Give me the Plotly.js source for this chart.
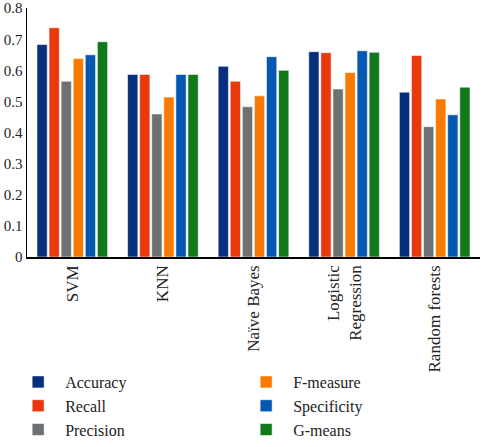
<!DOCTYPE html>
<html>
<head>
<meta charset="utf-8">
<script src="https://cdn.plot.ly/plotly-3.0.1.min.js"></script>
<style>html,body{margin:0;padding:0;background:#fff;}#chart{width:482px;height:447px;}</style>
</head>
<body>
<div id="chart"></div>
<script>
const categories = ["SVM", "KNN", "Naïve Bayes", "Logistic<br>Regression", "Random forests"];
const accuracy    = [0.683, 0.587, 0.613, 0.660, 0.530];
const recall      = [0.737, 0.587, 0.565, 0.657, 0.648];
const precision   = [0.565, 0.460, 0.483, 0.540, 0.419];
const fmeasure    = [0.638, 0.514, 0.518, 0.593, 0.508];
const specificity = [0.650, 0.587, 0.644, 0.663, 0.457];
const gmeans      = [0.692, 0.587, 0.600, 0.658, 0.546];
const seriesNames = ["Accuracy", "Recall", "Precision", "F-measure", "Specificity", "G-means"];
const yTicks = [0, 0.1, 0.2, 0.3, 0.4, 0.5, 0.6, 0.7, 0.8];

const series = [accuracy, recall, precision, fmeasure, specificity, gmeans];
const colors = ["#062f7c", "#e8380c", "#6e7174", "#f97a02", "#0458b0", "#12791a"];
const ranks = [1, 3, 5, 2, 4, 6];

const traces = series.map((vals, i) => ({
  type: "bar",
  name: seriesNames[i],
  x: categories,
  y: vals,
  legendrank: ranks[i],
  marker: { color: colors[i], line: { color: "rgba(255,255,255,0.55)", width: 1 } }
}));

const serif = "Liberation Serif, Times New Roman, serif";
const layout = {
  width: 482, height: 447,
  margin: { l: 27, r: 2, t: 8, b: 189 },
  paper_bgcolor: "#fff", plot_bgcolor: "#fff",
  barmode: "group", bargap: 0.2, bargroupgap: 0.15,
  font: { family: serif, size: 15, color: "#222" },
  showlegend: true,
  legend: {
    orientation: "h", x: -0.035, xanchor: "left", y: -0.756, yanchor: "bottom",
    bgcolor: "rgba(0,0,0,0)",
    entrywidth: 169, entrywidthmode: "pixels",
    font: { family: serif, size: 16, color: "#222" },
    traceorder: "normal", itemwidth: 44, tracegroupgap: 0
  },
  xaxis: {
    type: "category", tickangle: -90, showline: true, linecolor: "#000", linewidth: 1.5,
    ticks: "", showgrid: false, automargin: false, tickfont: { family: serif, size: 17, color: "#222" }
  },
  yaxis: {
    range: [0, 0.8005], tickvals: yTicks, ticktext: yTicks.map(v => String(v)),
    showline: true, linecolor: "#000", linewidth: 1.5, ticks: "", showgrid: false,
    zeroline: false, automargin: false, ticklabeloverflow: "allow",
    tickfont: { family: serif, size: 15, color: "#222" }
  }
};

Plotly.newPlot("chart", traces, layout, { staticPlot: true, displayModeBar: false });
</script>
</body>
</html>
